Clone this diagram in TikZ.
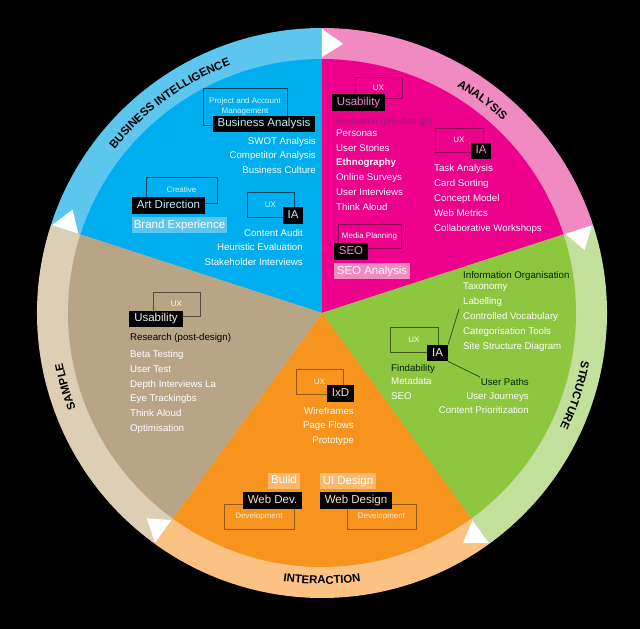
\documentclass[tikz,border=0pt]{standalone}
\usepackage{fontspec}
\setmainfont{Liberation Sans}
\usepackage{xcolor}
\usepackage{tikz}
\usetikzlibrary{decorations.text}

\definecolor{blueW}{HTML}{00AEEF}
\definecolor{blueR}{HTML}{5CC6EE}
\definecolor{pinkW}{HTML}{EC008C}
\definecolor{pinkR}{HTML}{F18AC0}
\definecolor{greenW}{HTML}{8DC63F}
\definecolor{greenR}{HTML}{C2DF9C}
\definecolor{orangeW}{HTML}{F7941D}
\definecolor{orangeR}{HTML}{FBC283}
\definecolor{tanW}{HTML}{B8A586}
\definecolor{tanR}{HTML}{DCCFB4}
\definecolor{preDesign}{HTML}{7A2C74}
\newcommand{\ringfont}{\bfseries\fontsize{11.4}{13}\selectfont}

\begin{document}
\begin{tikzpicture}[x=1pt, y=1pt,
  tag/.style={fill=black, inner xsep=5pt, inner ysep=2.75pt, text height=8.5pt, text depth=2.5pt, font=\fontsize{11.5}{13}\selectfont},
  chip/.style={inner xsep=3pt, inner ysep=2.5pt, text height=8.5pt, text depth=2.5pt, text=white, font=\fontsize{11.5}{13}\selectfont},
  frame/.style={draw, line width=0.9pt, inner sep=0pt, align=center, font=\fontsize{8}{9.5}\selectfont},
  item/.style={inner sep=0pt, text=white, font=\fontsize{9.7}{11}\selectfont}]

% Background
\useasboundingbox (-322,-316) rectangle (318,313);
\fill[black] (-322,-316) rectangle (318,313);

% Wedges and outer ring
\foreach \a/\b/\w/\r in {90/162/blueW/blueR, 18/90/pinkW/pinkR, -54/18/greenW/greenR, -126/-54/orangeW/orangeR, -198/-126/tanW/tanR} {
    \fill[\r] (0,0) -- (\a:285) arc (\a:\b:285) -- cycle;
    \fill[\w] (0,0) -- (\a:254) arc (\a:\b:254) -- cycle;
}

% White arrow tips in the ring (clockwise)
\foreach \a in {90,18,-54,-126,162}
    \fill[white] (\a:256) -- (\a:284) -- (\a-4.5:270) -- cycle;

% Ring labels
\path[decorate, decoration={text along path, text align=center, text={|\ringfont|BUSINESS INTELLIGENCE}}] (166:264) arc (166:86:264);
\path[decorate, decoration={text along path, text align=center, text={|\ringfont|ANALYSIS}}] (93:264) arc (93:13:264);
\path[decorate, decoration={text along path, text align=center, text={|\ringfont|STRUCTURE}}] (22:264) arc (22:-58:264);
\path[decorate, decoration={text along path, text align=center, text={|\ringfont|INTERACTION}}] (-130:271) arc (-130:-50:271);
\path[decorate, decoration={text along path, text align=center, text={|\ringfont|SAMPLE}}] (236:264) arc (236:156:264);

% Business intelligence (blue)
\node[frame, draw=blueW!40!black, text=blueW!15!white, minimum width=84pt, minimum height=37pt] (pamBox) at (-77,206.5) {Project and Account\\Management};
\node[tag, text=white!75!blueW] (baTag) at (-58,189) {Business Analysis};
\foreach \t [count=\i] in {SWOT Analysis, Competitor Analysis, Business Culture}
    \node[item, anchor=base east] (ba\i) at (-6,{183.2-14.6*\i}) {\t};
\node[frame, draw=blueW!40!black, text=blueW!15!white, minimum width=71pt, minimum height=26pt] (crBox) at (-140.5,123) {Creative};
\node[tag, text=white!75!blueW] (adTag) at (-153.5,107.5) {Art Direction};
\node[chip, fill=blueR, inner xsep=1.5pt] (beChip) at (-142.5,87.5) {Brand Experience};
\node[frame, draw=blueW!40!black, text=blueW!15!white, minimum width=47pt, minimum height=25pt] (uxB) at (-51.5,108.5) {UX};
\node[tag, text=white!75!blueW] (iaB) at (-29,97.5) {IA};
\foreach \t [count=\i] in {Content Audit, Heuristic Evaluation, Stakeholder Interviews}
    \node[item, anchor=base east] (ca\i) at (-19,{91.1-14.5*\i}) {\t};

% Analysis (pink)
\node[frame, draw=pinkW!60!black, text=white, minimum width=47pt, minimum height=21pt] (uxP) at (56.5,225.5) {UX};
\node[tag, text=pinkW!45!white] (usP) at (36.5,210.5) {Usability};
\node[item, text=preDesign, anchor=base west] (preRes) at (14,188.6) {Research (pre-design)};
\foreach \t [count=\i] in {Personas, User Stories, \textbf{Ethnography}, Online Surveys, User Interviews, Think Aloud}
    \node[item, anchor=base west] (us\i) at (14,{191.4-14.8*\i}) {\t};
\node[frame, draw=pinkW!60!black, text=white, minimum width=48pt, minimum height=24pt] (uxP2) at (137,173) {UX};
\node[tag, text=pinkW!45!white] (iaP) at (159,162) {IA};
\foreach \t [count=\i] in {Task Analysis, Card Sorting, Concept Model, Web Metrics, Collaborative Workshops}
    \node[item, anchor=base west] (ta\i) at (112,{156.6-15*\i}) {\t};
\node[frame, draw=pinkW!60!black, text=white, minimum width=63pt, minimum height=24pt] (mpBox) at (47.5,77) {Media Planning};
\node[tag, text=pinkW!45!white] (seoTag) at (29,61.5) {SEO};
\node[chip, fill=pinkR] (seoChip) at (50,41.5) {SEO Analysis};

% Structure (green)
\node[item, text=black!85!green, anchor=base west] (infoOrg) at (141,34.6) {Information Organisation};
\foreach \t [count=\i] in {Taxonomy, Labelling, Controlled Vocabulary, Categorisation Tools, Site Structure Diagram}
    \node[item, anchor=base west] (tx\i) at (141,{38.6-15*\i}) {\t};
\node[frame, draw=greenW!45!black, text=white, minimum width=48pt, minimum height=25pt] (uxG) at (92,-26.5) {UX};
\node[tag, text=white!85!greenW] (iaG) at (115.5,-40) {IA};
\coordinate (iaGup) at (137,4);
\coordinate (iaGdn) at (158,-64);
\draw[greenW!40!black, line width=0.8pt] (iaG.north east) -- (iaGup);
\draw[greenW!40!black, line width=0.8pt] (iaG.south east) -- (iaGdn);
\node[item, text=black!85!green, anchor=base west] (findA) at (69,-58.4) {Findability};
\node[item, anchor=base west] (metaD) at (69,-71.4) {Metadata};
\node[item, anchor=base west] (seoG) at (69,-86.4) {SEO};
\node[item, text=black!85!green, anchor=base east] (userP) at (207,-72.4) {User Paths};
\node[item, anchor=base east] (userJ) at (207,-86.4) {User Journeys};
\node[item, anchor=base east] (contP) at (207,-100.4) {Content Prioritization};

% Interaction (orange)
\node[frame, draw=orangeW!60!black, text=orangeW!15!white, minimum width=47pt, minimum height=25pt] (uxO) at (-2.5,-68.5) {UX};
\node[tag, text=orangeW!30!white] (ixd) at (18.5,-80.5) {IxD};
\foreach \t [count=\i] in {Wireframes, Page Flows, Prototype}
    \node[item, anchor=base east] (wf\i) at (32,{-86.6-14.5*\i}) {\t};
\node[chip, fill=orangeW!65!white] (buildChip) at (-38,-167.5) {Build};
\node[chip, fill=orangeW!65!white] (uiChip) at (26,-168) {UI Design};
\node[frame, draw=orangeW!60!black, text=orangeW!15!white, minimum width=70pt, minimum height=25pt] (devL) at (-63,-203.5) {Development};
\node[frame, draw=orangeW!60!black, text=orangeW!15!white, minimum width=69pt, minimum height=25pt] (devR) at (59.5,-203.5) {Development};
\node[tag, text=orangeW!30!white] (webDev) at (-49.5,-187.5) {Web Dev.};
\node[tag, text=orangeW!30!white] (webDesign) at (34,-187.5) {Web Design};

% Sample (tan)
\node[frame, draw=tanW!45!black, text=white, minimum width=47pt, minimum height=24pt] (uxT) at (-145.5,9) {UX};
\node[tag, text=white!85!tanW] (usT) at (-166,-6) {Usability};
\node[item, text=black, anchor=base west] (postRes) at (-192,-27.4) {Research (post-design)};
\foreach \t [count=\i] in {Beta Testing, User Test, Depth Interviews La, Eye Trackingbs, Think Aloud, Optimisation}
    \node[item, anchor=base west] (bt\i) at (-192,{-29.6-14.8*\i}) {\t};

\end{tikzpicture}
\end{document}
